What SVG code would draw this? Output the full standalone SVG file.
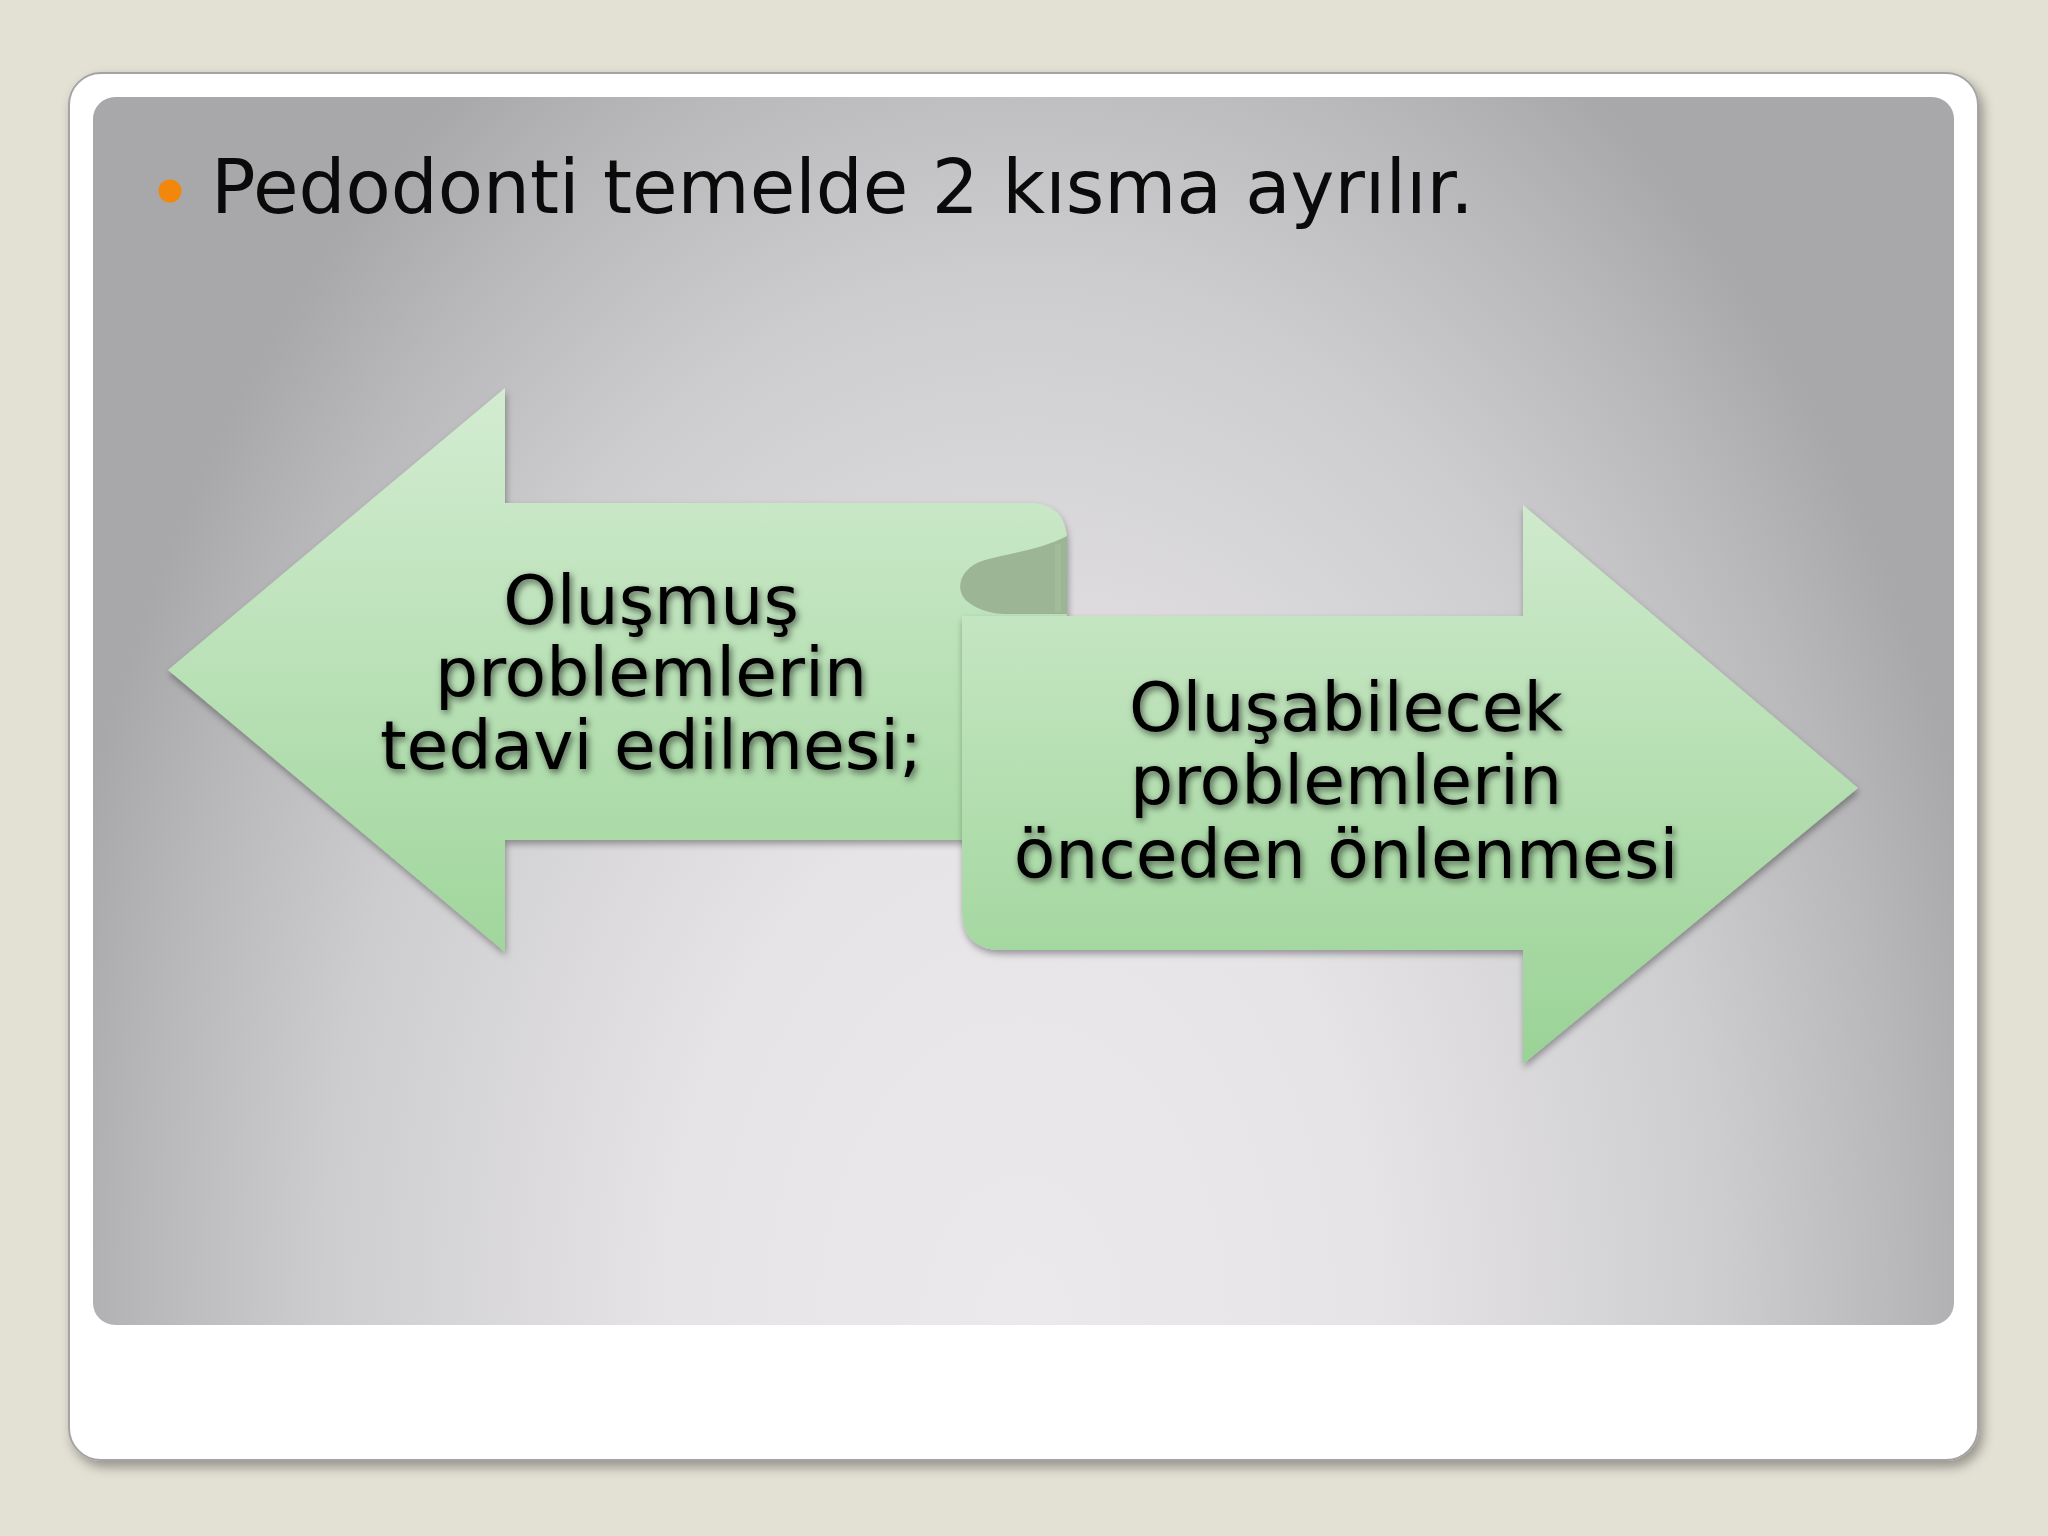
<svg xmlns="http://www.w3.org/2000/svg" width="2048" height="1536" viewBox="0 0 2048 1536">
  <defs>
    <radialGradient id="panelGrad" gradientUnits="userSpaceOnUse" cx="1024" cy="1326" r="1000" gradientTransform="translate(1024 1326) scale(1 1.5) translate(-1024 -1326)">
      <stop offset="0" stop-color="#EBE9EC"/>
      <stop offset="0.35" stop-color="#E6E4E7"/>
      <stop offset="0.7" stop-color="#CDCCCF"/>
      <stop offset="0.88" stop-color="#B8B8BA"/>
      <stop offset="1" stop-color="#A8A8AA"/>
    </radialGradient>
    <linearGradient id="greenL" x1="0" y1="0" x2="0" y2="1">
      <stop offset="0" stop-color="#D3ECD1"/>
      <stop offset="1" stop-color="#A0D69C"/>
    </linearGradient>
    <linearGradient id="greenR" x1="0" y1="0" x2="0" y2="1">
      <stop offset="0" stop-color="#CFEACC"/>
      <stop offset="1" stop-color="#9AD396"/>
    </linearGradient>
    <filter id="cardShadow" x="-5%" y="-5%" width="110%" height="112%">
      <feDropShadow dx="4" dy="6" stdDeviation="6" flood-color="#000" flood-opacity="0.35"/>
    </filter>
    <filter id="shapeShadow" x="-10%" y="-10%" width="120%" height="125%">
      <feDropShadow dx="1" dy="4" stdDeviation="3.5" flood-color="#000" flood-opacity="0.35"/>
    </filter>
    <filter id="textShadow" x="-10%" y="-20%" width="120%" height="150%">
      <feDropShadow dx="2" dy="3" stdDeviation="3.5" flood-color="#000" flood-opacity="0.6"/>
    </filter>
  </defs>
  <style>
    .title { font-family: "DejaVu Sans", Verdana, sans-serif; font-size: 74px; fill: #0a0a0a; }
    .label { font-family: "DejaVu Sans", Verdana, sans-serif; font-size: 68px; fill: #000; text-anchor: middle; }
  </style>

  <!-- page background -->
  <rect x="0" y="0" width="2048" height="1536" fill="#E3E0D4"/>

  <!-- slide card -->
  <g id="card">
    <rect x="69" y="73" width="1909" height="1387" rx="32" ry="32" fill="#FFFFFF" stroke="#A4A4A4" stroke-width="2" filter="url(#cardShadow)"/>
    <rect x="93" y="97" width="1861" height="1228" rx="22" ry="22" fill="url(#panelGrad)"/>
  </g>

  <!-- title -->
  <g id="title">
    <circle cx="170" cy="191" r="11.5" fill="#F2870C"/>
    <text class="title" x="211" y="213">Pedodonti temelde 2 kısma ayrılır.</text>
  </g>

  <!-- left arrow -->
  <g id="node-left">
    <path d="M168,670 L505,388 L505,503 L1028,503 Q1067,503 1067,542 L1067,840 L505,840 L505,952 Z" fill="url(#greenL)" filter="url(#shapeShadow)"/>
    <path d="M1067,536 C1040,550 1010,553 985,560 C960,567 953,590 968,602 C978,610 992,614 1005,614 L1067,614 Z" fill="#9CB695"/>
    <path d="M1058,544 L1058,612" stroke="#A6C09F" stroke-width="6" fill="none" opacity="0.6"/>
  </g>

  <!-- right arrow -->
  <g id="node-right">
    <path d="M962,616 L1523,616 L1523,505 L1858,788 L1523,1064 L1523,950 L1002,950 Q962,950 962,910 Z" fill="url(#greenR)" filter="url(#shapeShadow)"/>
  </g>

  <!-- labels -->
  <g id="labels" filter="url(#textShadow)">
    <text class="label" x="651" y="624">Oluşmuş</text>
    <text class="label" x="651" y="696">problemlerin</text>
    <text class="label" x="651" y="769">tedavi edilmesi;</text>
    <text class="label" x="1346" y="731">Oluşabilecek</text>
    <text class="label" x="1346" y="804">problemlerin</text>
    <text class="label" x="1346" y="878">önceden önlenmesi</text>
  </g>

  <g id="connectors"></g>
</svg>
